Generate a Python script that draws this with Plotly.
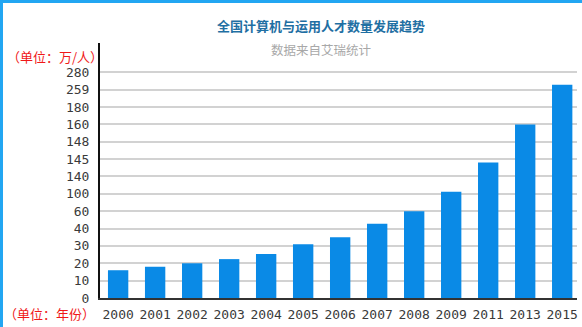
import numpy as np
import plotly.graph_objects as go

# ---- data ----
years = ["2000", "2001", "2002", "2003", "2004", "2005", "2006",
         "2007", "2008", "2009", "2011", "2013", "2015"]
talent = [16, 18, 20, 22.4, 25.3, 31, 35, 45.6, 60, 105, 144, 160, 265]   # 万人
tick_labels = [0, 10, 20, 30, 40, 60, 100, 140, 145, 148, 160, 180, 259, 280]

# ---- layout geometry (pixels) ----
W, H = 582, 327
L, R, T, B = 100, 5, 43, 29
pw, ph = W - L - R, H - T - B

def px(x):
    return (x - L) / pw

def py(y):
    return (H - B - y) / ph

# the axis is evenly spaced by tick index: map values through the tick scale
tick_idx = np.arange(len(tick_labels))
bar_pos = np.interp(talent, tick_labels, tick_idx)

fig = go.Figure()
fig.add_trace(go.Bar(
    x=years, y=bar_pos, width=0.55,
    marker=dict(color="#0a8ae6", line=dict(width=0)),
    hovertext=[f"{v}万人" for v in talent], hoverinfo="x+text",
))

tickfont = dict(family="DejaVu Sans Mono, Liberation Mono, monospace", size=13, color="#3a3a3a")

fig.update_layout(
    width=W, height=H,
    margin=dict(l=L, r=R, t=T, b=B, pad=0),
    paper_bgcolor="white", plot_bgcolor="white",
    showlegend=False,
    bargap=0.45,
    xaxis=dict(
        type="category", range=[-0.49, 12.4],
        showgrid=False, showline=True, linecolor="#333", linewidth=1.5,
        ticks="", tickfont=tickfont, ticklabelstandoff=4,
        fixedrange=True,
    ),
    yaxis=dict(
        range=[0, 14.69],
        tickmode="array", tickvals=list(tick_idx), ticktext=[str(t) for t in tick_labels],
        showgrid=True, gridcolor="#d2d2d2", gridwidth=1.5,
        zeroline=False, showline=True, linecolor="#111", linewidth=2,
        ticks="", tickfont=tickfont, ticklabelstandoff=6,
        fixedrange=True,
    ),
    font=dict(family="Noto Sans CJK SC, sans-serif"),
)

cjk = "Noto Sans CJK SC, sans-serif"
annos = [
    dict(text="<b>全国计算机与运用人才数量发展趋势</b>", x=px(321), y=py(25),
         xanchor="center", yanchor="middle",
         font=dict(family=cjk, size=13, color="#1f6fa3")),
    dict(text="数据来自艾瑞统计", x=px(321), y=py(49),
         xanchor="center", yanchor="middle",
         font=dict(family=cjk, size=12.5, color="#a8a8a8")),
    dict(text="（单位：万/人）", x=px(5), y=py(56),
         xanchor="left", yanchor="middle",
         font=dict(family=cjk, size=13, color="#f01818")),
    dict(text="（单位：年份）", x=px(2), y=py(313),
         xanchor="left", yanchor="middle",
         font=dict(family=cjk, size=13, color="#f01818")),
]
for a in annos:
    a.update(xref="paper", yref="paper", showarrow=False)
fig.update_layout(annotations=annos)

# light-blue frame on top and left edges
border = "#22a6f2"
fig.add_shape(type="rect", xref="paper", yref="paper", x0=px(0), x1=px(W), y0=py(3), y1=py(0),
              fillcolor=border, line=dict(width=0), layer="above")
fig.add_shape(type="rect", xref="paper", yref="paper", x0=px(0), x1=px(3), y0=py(H), y1=py(0),
              fillcolor=border, line=dict(width=0), layer="above")

fig.write_html("out.html", config={"displayModeBar": False})
